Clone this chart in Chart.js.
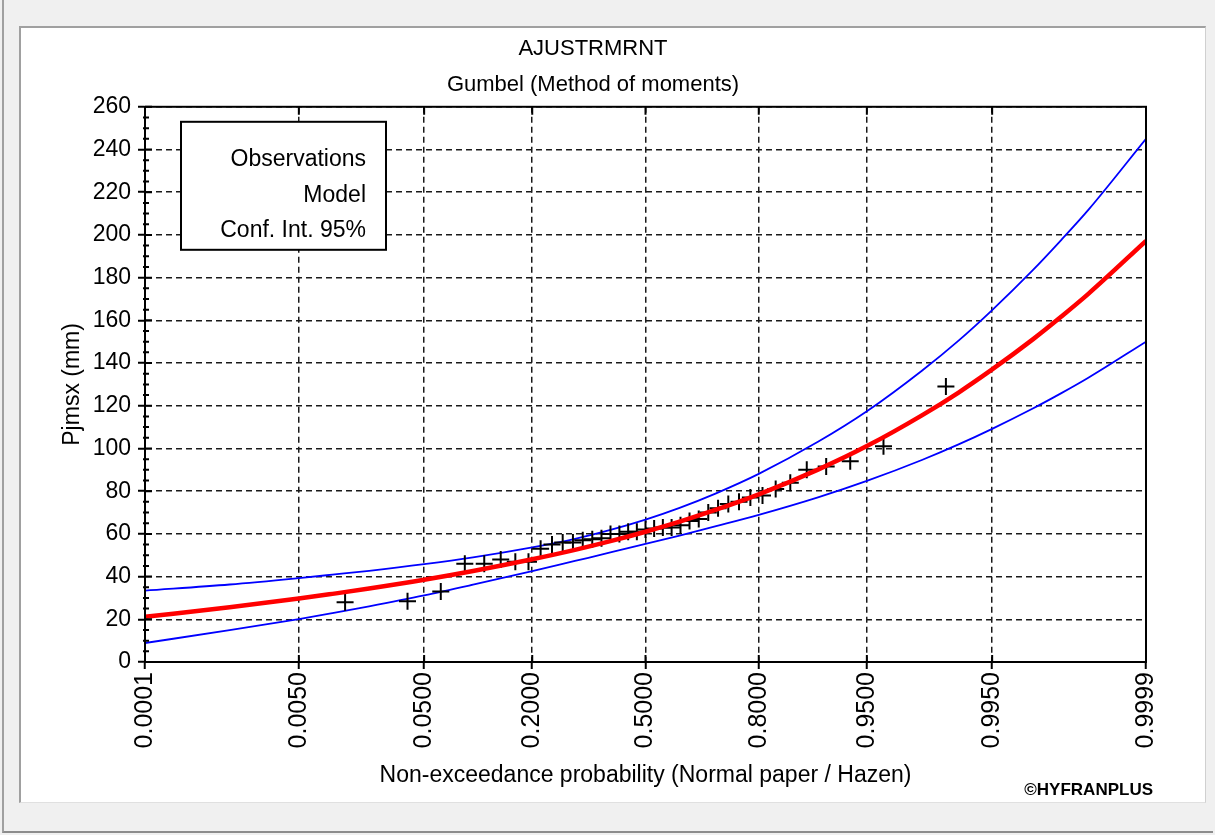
<!DOCTYPE html>
<html>
<head>
<meta charset="utf-8">
<title>AJUSTRMRNT</title>
<script src="https://cdn.jsdelivr.net/npm/chart.js@4.4.1/dist/chart.umd.min.js"></script>
<style>
  html, body { margin: 0; padding: 0; }
  body { width: 1215px; height: 835px; background: #f0f0f0; position: relative; overflow: hidden; }
  #frame { position: absolute; left: 2px; top: 0; width: 1211px; height: 833px; border-left: 2px solid #a0a0a0; border-bottom: 2px solid #8c8c8c; box-sizing: border-box; }
  #panel { position: absolute; left: 19px; top: 26px; width: 1187px; height: 777px; background: #fff; border-top: 2px solid #a0a0a0; border-left: 2px solid #a0a0a0; border-right: 1px solid #d0d0d0; border-bottom: 1px solid #e0e0e0; box-sizing: border-box; }
  #chart { position: absolute; left: 0; top: 0; width: 1215px; height: 835px; }
</style>
</head>
<body>
<div id="frame"></div>
<div id="panel"></div>
<canvas id="chart" width="1215" height="835"></canvas>
<script>
// Titles
var chartTitle = "AJUSTRMRNT";
var chartSubtitle = "Gumbel (Method of moments)";
var xTitle = "Non-exceedance probability (Normal paper / Hazen)";
var yTitle = "Pjmsx (mm)";
var legendTexts = ["Observations", "Model", "Conf. Int. 95%"];

// x ticks (non-exceedance probability, normal paper)
var probTicks = [0.0001, 0.005, 0.05, 0.2, 0.5, 0.8, 0.95, 0.995, 0.9999];
var probTickLabels = ["0.0001", "0.0050", "0.0500", "0.2000", "0.5000", "0.8000", "0.9500", "0.9950", "0.9999"];

// Observations (Hazen plotting positions, mm)
var obsProb = [0.0128, 0.0385, 0.0641, 0.0897, 0.1154, 0.1410, 0.1667, 0.1923, 0.2179, 0.2436,
               0.2692, 0.2949, 0.3205, 0.3462, 0.3718, 0.3974, 0.4231, 0.4487, 0.4744, 0.5000,
               0.5256, 0.5513, 0.5769, 0.6026, 0.6282, 0.6538, 0.6795, 0.7051, 0.7308, 0.7564,
               0.7821, 0.8077, 0.8333, 0.8590, 0.8846, 0.9103, 0.9359, 0.9615, 0.9872];
var obsValue = [28, 28.5, 33, 46, 46, 48, 47, 47, 53, 55,
                56, 56, 57, 57.5, 58, 60, 60, 61, 61, 62,
                62.5, 63, 63, 64, 66, 67, 70, 72, 74, 75,
                77, 78, 81, 84, 90, 91.5, 94, 101, 129];

// Model and 95% confidence interval
var modelProb  = [0.0001, 0.001, 0.005, 0.01, 0.02, 0.05, 0.1, 0.2, 0.3, 0.4, 0.5, 0.6,
                  0.7, 0.8, 0.9, 0.95, 0.98, 0.99, 0.995, 0.998, 0.999, 0.9995, 0.9999];
var modelValue = [21.2, 25.6, 29.7, 31.9, 34.4, 38.5, 42.6, 48.1, 52.5, 56.7, 61.0, 65.7,
                  71.3, 78.5, 90.1, 101.1, 115.5, 126.2, 137.0, 151.1, 161.8, 172.4, 197.2];
var upperValue = [33.4, 36.3, 39.3, 40.9, 42.7, 45.8, 49.0, 53.7, 57.7, 62.0, 66.7, 72.2,
                  79.0, 88.1, 103.1, 117.4, 136.4, 150.5, 164.8, 183.5, 197.7, 211.7, 245.0];
var lowerValue = [8.9, 14.9, 20.1, 22.9, 26.1, 31.2, 36.2, 42.5, 47.3, 51.4, 55.3, 59.2,
                  63.6, 68.9, 77.1, 84.8, 94.6, 101.9, 109.2, 118.7, 125.9, 133.1, 150.0];

// inverse normal cdf (Acklam) -> normal probability paper
function probit(p) {
    var a = [-3.969683028665376e+01, 2.209460984245205e+02, -2.759285104469687e+02, 1.383577518672690e+02, -3.066479806614716e+01, 2.506628277459239e+00];
    var b = [-5.447609879822406e+01, 1.615858368580409e+02, -1.556989798598866e+02, 6.680131188771972e+01, -1.328068155288572e+01];
    var c = [-7.784894002430293e-03, -3.223964580411365e-01, -2.400758277161838e+00, -2.549732539343734e+00, 4.374664141464968e+00, 2.938163982698783e+00];
    var d = [7.784695709041462e-03, 3.224671290700398e-01, 2.445134137142996e+00, 3.754408661907416e+00];
    var plow = 0.02425, q, r;
    if (p < plow) {
        q = Math.sqrt(-2 * Math.log(p));
        return (((((c[0]*q+c[1])*q+c[2])*q+c[3])*q+c[4])*q+c[5]) / ((((d[0]*q+d[1])*q+d[2])*q+d[3])*q+1);
    }
    if (p > 1 - plow) {
        q = Math.sqrt(-2 * Math.log(1 - p));
        return -(((((c[0]*q+c[1])*q+c[2])*q+c[3])*q+c[4])*q+c[5]) / ((((d[0]*q+d[1])*q+d[2])*q+d[3])*q+1);
    }
    q = p - 0.5; r = q * q;
    return (((((a[0]*r+a[1])*r+a[2])*r+a[3])*r+a[4])*r+a[5])*q / (((((b[0]*r+b[1])*r+b[2])*r+b[3])*r+b[4])*r+1);
}

function toPoints(probs, values) {
    return probs.map(function (p, i) { return {x: probit(p), y: values[i]}; });
}

Chart.defaults.font.family = "'Liberation Sans', Arial, sans-serif";
Chart.defaults.color = "#000";

// frame, inner ticks, legend box, copyright
var framePlugin = {
    id: 'framePlugin',
    afterDatasetsDraw: function (chart) {
        var ctx = chart.ctx, a = chart.chartArea;
        var xs = chart.scales.x, ys = chart.scales.y;
        ctx.save();
        ctx.strokeStyle = '#000';
        ctx.lineWidth = 2;
        ctx.strokeRect(a.left, a.top, a.right - a.left, a.bottom - a.top);

        ctx.beginPath();
        probTicks.forEach(function (p) {
            var px = xs.getPixelForValue(probit(p));
            ctx.moveTo(px, a.top); ctx.lineTo(px, a.top + 8);
            ctx.moveTo(px, a.bottom); ctx.lineTo(px, a.bottom - 7);
        });
        for (var v = 0; v <= 260; v += 5) {
            var py = ys.getPixelForValue(v);
            if (v % 20 === 0) {
                ctx.moveTo(a.left, py); ctx.lineTo(a.left + 7, py);
            } else {
                ctx.moveTo(a.left - 2, py); ctx.lineTo(a.left + 4, py);
            }
        }
        ctx.stroke();

        // legend box (text only)
        var bx = a.left + 36, by = a.top + 15;
        ctx.fillStyle = '#fff';
        ctx.fillRect(bx, by, 205, 128);
        ctx.strokeRect(bx, by, 205, 128);
        ctx.fillStyle = '#000';
        ctx.font = "23px 'Liberation Sans', Arial, sans-serif";
        ctx.textAlign = 'right';
        ctx.textBaseline = 'middle';
        legendTexts.forEach(function (t, i) {
            ctx.fillText(t, bx + 185, by + 38 + i * 35.5);
        });

        ctx.font = "bold 17px 'Liberation Sans', Arial, sans-serif";
        ctx.fillText("\u00A9HYFRANPLUS", a.right + 7, 790);
        ctx.restore();
    }
};

var ctx = document.getElementById('chart');

var chartData = {
    datasets: [{
        label: 'Model',
        data: toPoints(modelProb, modelValue),
        borderColor: '#ff0000',
        borderWidth: 4.5,
        pointRadius: 0,
        cubicInterpolationMode: 'monotone',
        order: 0
    }, {
        type: 'scatter',
        label: 'Observations',
        data: toPoints(obsProb, obsValue),
        pointStyle: 'cross',
        pointRadius: 8.5,
        borderColor: '#000',
        borderWidth: 2,
        order: 1
    }, {
        label: 'Conf. Int. 95% (upper)',
        data: toPoints(modelProb, upperValue),
        borderColor: '#0000ff',
        borderWidth: 1.8,
        pointRadius: 0,
        cubicInterpolationMode: 'monotone',
        order: 2
    }, {
        label: 'Conf. Int. 95% (lower)',
        data: toPoints(modelProb, lowerValue),
        borderColor: '#0000ff',
        borderWidth: 1.8,
        pointRadius: 0,
        cubicInterpolationMode: 'monotone',
        order: 2
    }]
};

var chartOptions = {
    responsive: false,
    animation: false,
    layout: { padding: { left: 40, right: 69, top: 36, bottom: 40 } },
    plugins: {
        legend: { display: false },
        tooltip: { enabled: false },
        title: {
            display: true, text: chartTitle, color: '#000',
            font: { size: 22, weight: 'normal' },
            padding: { top: 0, bottom: 9 }
        },
        subtitle: {
            display: true, text: chartSubtitle, color: '#000',
            font: { size: 22 },
            padding: { top: 0, bottom: 9 }
        }
    },
    scales: {
        x: {
            type: 'linear',
            min: probit(0.0001),
            max: probit(0.9999),
            afterBuildTicks: function (scale) {
                scale.ticks = probTicks.map(function (p) { return { value: probit(p) }; });
            },
            afterFit: function (scale) { scale.height = 133; },
            ticks: {
                autoSkip: false, minRotation: 90, maxRotation: 90, padding: 3,
                font: { size: 25 }, color: '#000',
                callback: function (value, index) { return probTickLabels[index]; }
            },
            grid: { color: '#1a1a1a', lineWidth: 1.5, tickLength: 7, tickColor: '#000', tickWidth: 2 },
            border: { display: true, color: '#000', width: 2, dash: [6, 4] },
            title: { display: true, text: xTitle, font: { size: 23 }, color: '#000', padding: { top: 0, bottom: 6 } }
        },
        y: {
            type: 'linear',
            min: 0,
            max: 260,
            afterFit: function (scale) { scale.width = 105; },
            ticks: { stepSize: 20, padding: 7, font: { size: 23 }, color: '#000' },
            grid: { color: '#1a1a1a', lineWidth: 1.5, tickLength: 7, tickColor: '#000', tickWidth: 2 },
            border: { display: true, color: '#000', width: 2, dash: [6, 4] },
            title: { display: true, text: yTitle, font: { size: 23 }, color: '#000', padding: { top: 19, bottom: 0 } }
        }
    }
};

var config = {
    type: 'line',
    data: chartData,
    options: chartOptions,
    plugins: [framePlugin]
};

// Create the chart
var hyfranChart = new Chart(ctx, config);
</script>
</body>
</html>
